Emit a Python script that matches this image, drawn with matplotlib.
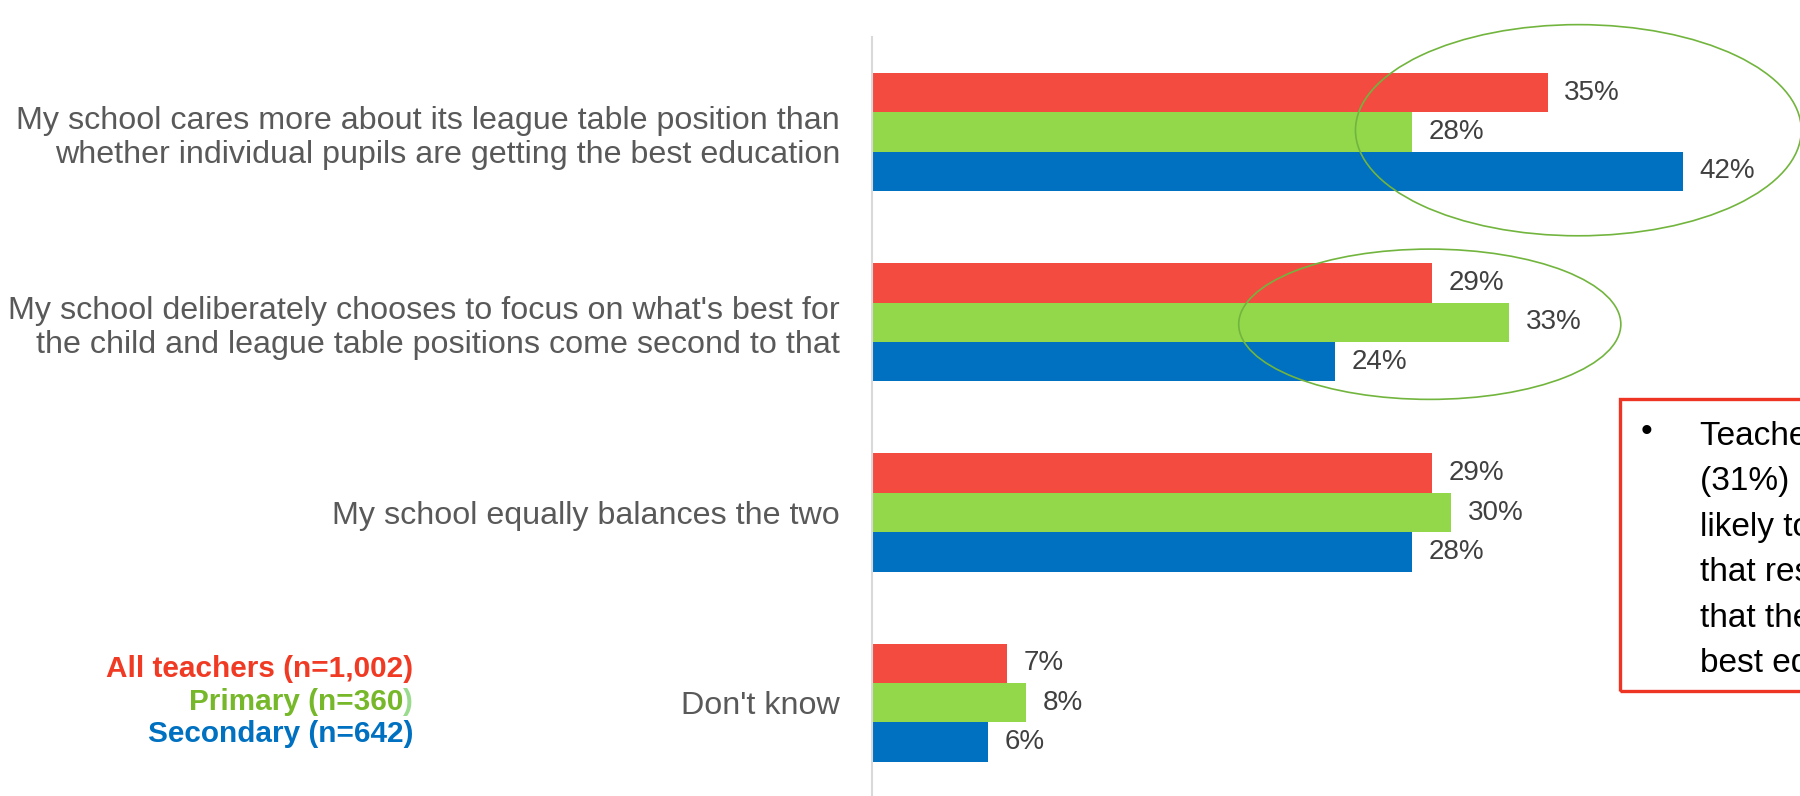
import matplotlib
matplotlib.use("Agg")
import matplotlib.pyplot as plt
from matplotlib import font_manager
from matplotlib.patches import Ellipse, Rectangle

# Survey responses (% of teachers)
categories = [
    "My school cares more about its league table position than\nwhether individual pupils are getting the best education",
    "My school deliberately chooses to focus on what's best for\nthe child and league table positions come second to that",
    "My school equally balances the two",
    "Don't know",
]
all_teachers = [35, 29, 29, 7]
primary = [28, 33, 30, 8]
secondary = [42, 24, 28, 6]

series_names = ["All teachers (n=1,002)", "Primary (n=360", "Secondary (n=642)"]
bar_colors = ["#F44B41", "#92D84A", "#0070C0"]
text_colors = ["#F03A24", "#76B82A", "#0070C0"]

note_lines = [
    "Teachers in secondary schools",
    "(31%) are significantly more",
    "likely to say their school",
    "that results matter more",
    "that their pupils get the",
    "best education",
]

installed = {f.name for f in font_manager.fontManager.ttflist}
regular = "Liberation Sans" if "Liberation Sans" in installed else "DejaVu Sans"
plt.rcParams["font.family"] = [regular, "DejaVu Sans"]

W, H = 1800, 796
fig = plt.figure(figsize=(W / 100, H / 100), dpi=100)
ax = fig.add_axes([872 / W, 0, 1 - 872 / W, (H - 37) / H])

bar_h = 0.207
offsets = [-bar_h, 0, bar_h]
for vals, off, col in zip([all_teachers, primary, secondary], offsets, bar_colors):
    ys = [i + off for i in range(len(vals))]
    ax.barh(ys, vals, height=bar_h, color=col, edgecolor="none")
    for y, v in zip(ys, vals):
        ax.annotate(f"{v}%", (v, y), xytext=(12, 0), textcoords="offset points",
                    ha="left", va="center", fontsize=20, color="#404040")

ax.set_xlim(0, (W - 872) / 19.3)
ax.set_ylim(3.49, -0.50)
ax.set_yticks(range(len(categories)))
ax.set_yticklabels(categories, fontsize=23.2, color="#595959", linespacing=1.18)
ax.tick_params(axis="y", length=0, pad=23)
ax.set_xticks([])
for s in ["top", "right", "bottom"]:
    ax.spines[s].set_visible(False)
ax.spines["left"].set_color("#D9D9D9")
ax.spines["left"].set_linewidth(1.5)

# Highlight ellipses
ax.add_patch(Ellipse((36.6, -0.01), 23.1, 1.11, fill=False, edgecolor="#72B53E",
                     linewidth=1.2, clip_on=False))
ax.add_patch(Ellipse((28.9, 1.01), 19.8, 0.79, fill=False, edgecolor="#72B53E",
                     linewidth=1.2, clip_on=False))

# Series key
key_base = [677, 710, 742]
for name, col, yp in zip(series_names, text_colors, key_base):
    if name.startswith("Primary"):
        t = fig.text(413 / W, 1 - yp / H, ")", ha="right", va="baseline",
                     fontsize=21.4, fontweight="bold", color="#9ADB8E")
        fig.canvas.draw()
        bb = t.get_window_extent()
        fig.text(bb.x0 / W, 1 - yp / H, name, ha="right", va="baseline",
                 fontsize=21.4, fontweight="bold", color=col)
    else:
        fig.text(413 / W, 1 - yp / H, name, ha="right", va="baseline",
                 fontsize=21.4, fontweight="bold", color=col)

# Callout box
fig.patches.append(Rectangle((1620 / W, 1 - 691 / H), 400 / W, (691 - 399) / H,
                             transform=fig.transFigure, fill=False,
                             edgecolor="#EE3524", linewidth=2.4))
for k, line in enumerate(note_lines):
    base = 445 + 45.4 * k
    if k == 0:
        fig.text(1646 / W, 1 - 432 / H, "\u2022", ha="center", va="center",
                 fontsize=24, color="black")
    fig.text(1700 / W, 1 - base / H, line, ha="left", va="baseline",
             fontsize=24, color="black")

fig.savefig("out.png", dpi=100)
